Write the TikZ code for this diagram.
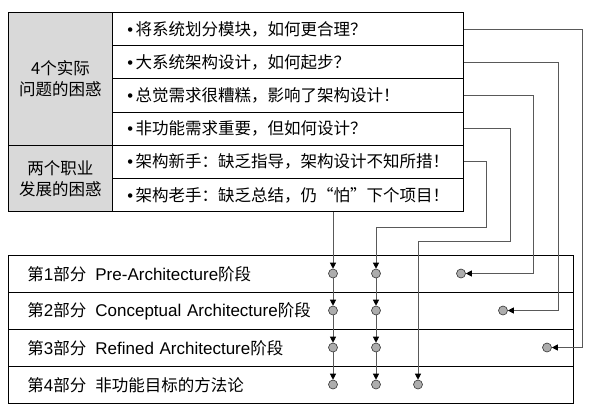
\documentclass[tikz,border=0pt]{standalone}
\usepackage{fontspec}
\setmainfont{Liberation Sans}
\newfontfamily\cjk{Noto Sans CJK SC}
\usetikzlibrary{arrows.meta,calc}
\newcommand{\ck}[1]{{\cjk\fontsize{16.5}{20}\selectfont #1}}
\newcommand{\bl}{\hspace*{0pt}•\hspace{2.5pt}}
\begin{document}
\begin{tikzpicture}[x=1pt,y=-1pt]
\tikzset{
 cellg/.style={draw=black, line width=0.9pt, fill=black!15, minimum width=104pt, anchor=north west, inner sep=0pt, align=center, font=\cjk\fontsize{16.5}{21}\selectfont},
 cellt/.style={draw=black, line width=0.9pt, minimum width=351pt, minimum height=33.2pt, anchor=north west, inner xsep=15pt, inner ysep=0pt, text width=321pt, align=left, font=\fontsize{16.5}{20}\selectfont},
 cellb/.style={draw=black, line width=0.9pt, minimum width=565pt, minimum height=37pt, anchor=north west, inner xsep=19pt, inner ysep=0pt, text width=527pt, align=left, font=\fontsize{17}{20}\selectfont},
 dot/.style={circle, draw=black!80, line width=0.6pt, fill=black!32, minimum size=9pt, inner sep=0pt},
 conn/.style={draw=black!65, line width=0.9pt},
 arr/.style={conn, -{Triangle[length=6pt,width=6pt,color=black]}},
}
\useasboundingbox (0,0) rectangle (596,413);
\fill[white] (0,0) rectangle (596,413);
% top table
\node[cellg, minimum height=132.8pt] (g1) at (8,12) {4个实际\\问题的困惑};
\node[cellg, minimum height=66.4pt] (g2) at (8,144.8) {两个职业\\发展的困惑};
\node[cellt] (r1) at (112,12) {\bl\cjk 将系统划分模块，如何更合理？};
\node[cellt] (r2) at (112,45.2) {\bl\cjk 大系统架构设计，如何起步？};
\node[cellt] (r3) at (112,78.4) {\bl\cjk 总觉需求很糟糕，影响了架构设计！};
\node[cellt] (r4) at (112,111.6) {\bl\cjk 非功能需求重要，但如何设计？};
\node[cellt] (r5) at (112,144.8) {\bl\cjk 架构新手：缺乏指导，架构设计不知所措！};
\node[cellt] (r6) at (112,178) {\bl\cjk 架构老手：缺乏总结，仍“怕”下个项目！};
% bottom table
\node[cellb] (b1) at (8,255) {\ck{第}1\ck{部分}\hspace{9pt}Pre-Architecture\ck{阶段}};
\node[cellb] (b2) at (8,292) {\ck{第}2\ck{部分}\hspace{9pt}Conceptual Architecture\ck{阶段}};
\node[cellb] (b3) at (8,329) {\ck{第}3\ck{部分}\hspace{9pt}Refined Architecture\ck{阶段}};
\node[cellb] (b4) at (8,366) {\ck{第}4\ck{部分}\hspace{9pt}\ck{非功能目标的方法论}};
% dots
\foreach \i/\y in {1/273.5,2/310.5,3/347.5,4/384.5}{
  \node[dot] (A\i) at (333,\y) {};
  \node[dot] (B\i) at (376,\y) {};
}
\node[dot] (C4) at (418,384.5) {};
\node[dot] (D1) at (461,273.5) {};
\node[dot] (D2) at (503,310.5) {};
\node[dot] (D3) at (547,347.5) {};
% bend points
\coordinate (k5) at (486,227);
\coordinate (k4) at (510,241);
\coordinate (k3) at (533,273.5);
\coordinate (k2) at (558,310.5);
\coordinate (k1) at (582,347.5);
% connectors
\draw[arr] (A1 |- r6.south) -- (A1);
\draw[arr] (A1) -- (A2);
\draw[arr] (A2) -- (A3);
\draw[arr] (A3) -- (A4);
\draw[arr] (r5.east) -| (k5) -| (B1);
\draw[arr] (B1) -- (B2);
\draw[arr] (B2) -- (B3);
\draw[arr] (B3) -- (B4);
\draw[arr] (r4.east) -| (k4) -| (C4);
\draw[arr] (r3.east) -| (k3) -- (D1);
\draw[arr] (r2.east) -| (k2) -- (D2);
\draw[arr] (r1.east) -| (k1) -- (D3);
\end{tikzpicture}
\end{document}
